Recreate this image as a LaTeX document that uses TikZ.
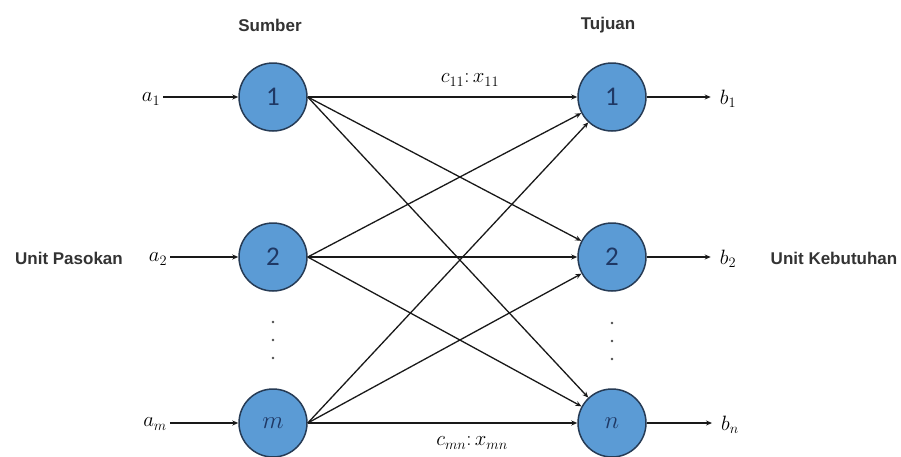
\documentclass[tikz,border=0pt]{standalone}
\usepackage{fontspec}
\setsansfont{Liberation Sans}
\newfontfamily\digitfont{Carlito}
\usetikzlibrary{arrows.meta}
\definecolor{nodefill}{HTML}{5B9BD5}
\definecolor{nodeedge}{HTML}{263B55}
\definecolor{digit}{HTML}{1F3864}
\definecolor{lbl}{HTML}{333333}
\tikzset{
  x=1pt, y=-1pt,
  netnode/.style={circle, draw=nodeedge, line width=1.5pt, fill=nodefill,
    minimum size=68pt, inner sep=0pt, text=digit, font=\digitfont\fontsize{27}{27}\selectfont},
  mathlbl/.style={inner sep=3pt, font=\fontsize{22}{22}\selectfont},
  headlbl/.style={inner sep=0pt, text=lbl, font=\sffamily\bfseries\fontsize{17}{17}\selectfont},
  arc/.style={draw=black!90, line width=1.3pt, -{Stealth[length=6pt,width=5pt]}},
  dotmark/.style={circle, fill=black!70, inner sep=0pt, minimum size=2.6pt}
}
\begin{document}
\begin{tikzpicture}
\useasboundingbox (0,0) rectangle (901,456);
% source nodes
\node[netnode] (s1) at (273,97) {1};
\node[netnode] (s2) at (273,257) {2};
\node[netnode] (sm) at (273,423) {$m$};
% destination nodes
\node[netnode] (d1) at (612,97) {1};
\node[netnode] (d2) at (612,257) {2};
\node[netnode] (dn) at (612,423) {$n$};
% supply labels
\node[mathlbl] (a1) at (151,99) {$a_1$};
\node[mathlbl] (a2) at (158,259) {$a_2$};
\node[mathlbl] (am) at (155,424) {$a_m$};
% demand labels
\node[mathlbl] (b1) at (728,99) {$b_1$};
\node[mathlbl] (b2) at (728,259) {$b_2$};
\node[mathlbl] (bn) at (730,425) {$b_n$};
% headings
\node[headlbl] (sumber) at (270,25) {Sumber};
\node[headlbl] (tujuan) at (608,25) {Tujuan};
\node[headlbl] (pasokan) at (69,258) {Unit Pasokan};
\node[headlbl] (kebutuhan) at (834,258) {Unit Kebutuhan};
% edge labels
\node[mathlbl] (c11) at (470,80) {$c_{11}\colon x_{11}$};
\node[mathlbl] (cmn) at (472,443) {$c_{mn}\colon x_{mn}$};
% dots
\node[dotmark] (ls1) at (273,322) {};
\node[dotmark] (ls2) at (273,340) {};
\node[dotmark] (ls3) at (273,358) {};
\node[dotmark] (rs1) at (612,323) {};
\node[dotmark] (rs2) at (612,341) {};
\node[dotmark] (rs3) at (612,359) {};
% input arrows
\draw[arc] (a1.east |- s1) -- (s1);
\draw[arc] (a2.east |- s2) -- (s2);
\draw[arc] (am.east |- sm) -- (sm);
% output arrows
\draw[arc] (d1) -- ([xshift=-6pt]b1.west |- d1);
\draw[arc] (d2) -- ([xshift=-6pt]b2.west |- d2);
\draw[arc] (dn) -- ([xshift=-6pt]bn.west |- dn);
% network arcs
\foreach \s in {s1,s2,sm}{
  \foreach \d in {d1,d2,dn}{
    \draw[arc] (\s.east) -- (\d);
  }
}
\end{tikzpicture}
\end{document}
